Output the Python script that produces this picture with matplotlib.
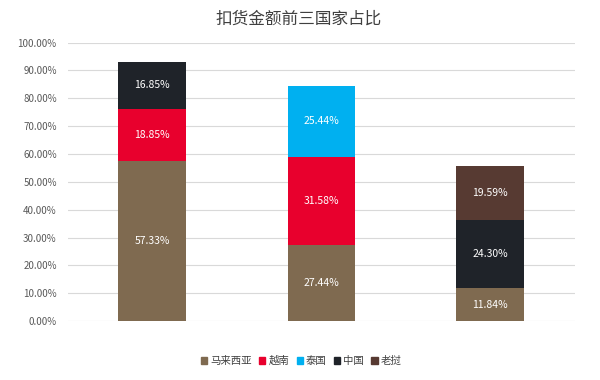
import matplotlib.pyplot as plt
import numpy as np
from matplotlib.ticker import PercentFormatter
from matplotlib.patches import Patch

plt.rcParams['font.family'] = ['Noto Sans CJK SC', 'DejaVu Sans']

# data (fractions in %)
groups = ['A', 'B', 'C']
countries = ['马来西亚', '越南', '泰国', '中国', '老挝']
colors = ['#7f6a50', '#e8002d', '#00b0f0', '#1f2329', '#573a32']

malaysia = [57.33, 27.44, 11.84]
vietnam = [18.85, 31.58, 0]
thailand = [0, 25.44, 0]
china = [16.85, 0, 24.30]
laos = [0, 0, 19.59]
series = [malaysia, vietnam, thailand, china, laos]

fig = plt.figure(figsize=(6, 3.8), dpi=100)
ax = fig.add_axes([0.113, 0.155, 0.845, 0.733])

x = np.arange(len(groups))
bottom = np.zeros(len(groups))
for vals, col in zip(series, colors):
    vals = np.array(vals)
    ax.bar(x, vals, width=0.4, bottom=bottom, color=col, zorder=3)
    for xi, v, b in zip(x, vals, bottom):
        if v > 0:
            ax.text(xi, b + v / 2, f'{v:.2f}%', ha='center', va='center',
                    color='white', fontsize=7.5, zorder=4)
    bottom += vals

ax.set_xlim(-0.5, 2.5)
ax.set_ylim(0, 100)
ax.set_yticks(np.arange(0, 101, 10))
ax.yaxis.set_major_formatter(PercentFormatter(decimals=2))
ax.tick_params(axis='y', length=0, labelsize=7, colors='#595959', pad=8)
ax.set_xticks([])
ax.grid(axis='y', color='#d9d9d9', linewidth=0.8, zorder=0)
for s in ax.spines.values():
    s.set_visible(False)

fig.text(0.498, 0.95, '扣货金额前三国家占比', ha='center', va='center',
         fontsize=12, color='#404040')

handles = [Patch(color=c, label=n) for n, c in zip(countries, colors)]
fig.legend(handles=handles, loc='center', bbox_to_anchor=(0.502, 0.05),
           ncol=5, frameon=False, fontsize=7.5, handlelength=0.6,
           handleheight=0.6, handletextpad=0.3, columnspacing=0.7,
           labelcolor='#404040')

fig.savefig('out.png', dpi=100)
